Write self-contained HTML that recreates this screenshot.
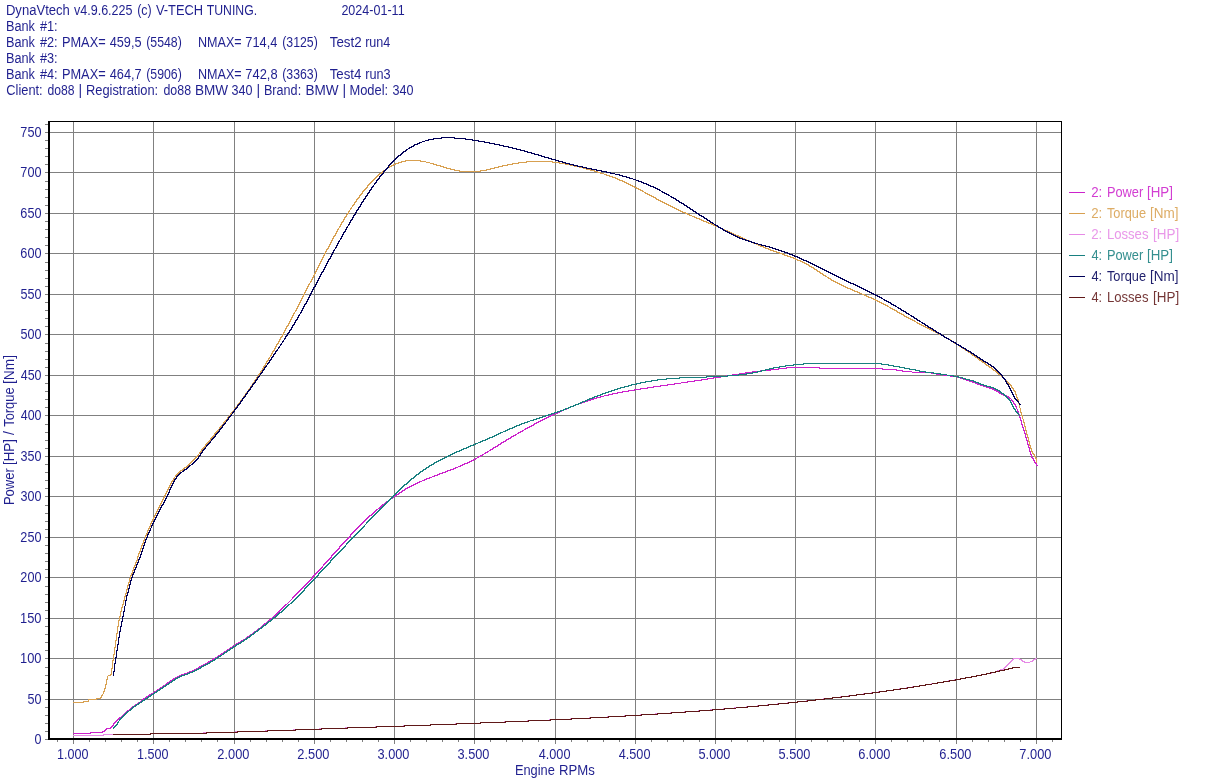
<!DOCTYPE html>
<html lang="en"><head><meta charset="utf-8"><title>DynaVtech</title>
<style>
html,body{margin:0;padding:0;background:#fff;}
body{width:1212px;height:779px;overflow:hidden;position:relative;font-family:"Liberation Sans",sans-serif;}
svg{position:absolute;left:0;top:0;display:block;}
text{font-family:"Liberation Sans",sans-serif;font-size:14px;fill:#000080;fill-opacity:.88;white-space:pre;}
.g{fill:#808080;}
</style></head><body>
<svg width="1212" height="779" viewBox="0 0 1212 779">
<rect x="0" y="0" width="1212" height="779" fill="#fff"/>
<g id="header">
<text y="15"><tspan x="5.93" textLength="63.92" lengthAdjust="spacingAndGlyphs">DynaVtech</tspan> <tspan x="73.96" textLength="58.57" lengthAdjust="spacingAndGlyphs">v4.9.6.225</tspan> <tspan x="137.23" textLength="14.55" lengthAdjust="spacingAndGlyphs">(c)</tspan> <tspan x="155.94" textLength="47.09" lengthAdjust="spacingAndGlyphs">V-TECH</tspan> <tspan x="206.72" textLength="50.39" lengthAdjust="spacingAndGlyphs">TUNING.</tspan> <tspan x="341.38" textLength="63.23" lengthAdjust="spacingAndGlyphs">2024-01-11</tspan></text>
<text y="31"><tspan x="5.96" textLength="29.03" lengthAdjust="spacingAndGlyphs">Bank</tspan> <tspan x="39.94" textLength="17.72" lengthAdjust="spacingAndGlyphs">#1:</tspan></text>
<text y="47"><tspan x="5.96" textLength="29.03" lengthAdjust="spacingAndGlyphs">Bank</tspan> <tspan x="39.94" textLength="17.72" lengthAdjust="spacingAndGlyphs">#2:</tspan> <tspan x="61.95" textLength="43.68" lengthAdjust="spacingAndGlyphs">PMAX=</tspan> <tspan x="109.71" textLength="31.83" lengthAdjust="spacingAndGlyphs">459,5</tspan> <tspan x="146.24" textLength="35.52" lengthAdjust="spacingAndGlyphs">(5548)</tspan> <tspan x="197.97" textLength="43.65" lengthAdjust="spacingAndGlyphs">NMAX=</tspan> <tspan x="245.34" textLength="32.03" lengthAdjust="spacingAndGlyphs">714,4</tspan> <tspan x="282.24" textLength="35.52" lengthAdjust="spacingAndGlyphs">(3125)</tspan> <tspan x="329.71" textLength="31.93" lengthAdjust="spacingAndGlyphs">Test2</tspan> <tspan x="365.16" textLength="25.21" lengthAdjust="spacingAndGlyphs">run4</tspan></text>
<text y="63"><tspan x="5.96" textLength="29.03" lengthAdjust="spacingAndGlyphs">Bank</tspan> <tspan x="39.94" textLength="17.72" lengthAdjust="spacingAndGlyphs">#3:</tspan></text>
<text y="79"><tspan x="5.96" textLength="29.03" lengthAdjust="spacingAndGlyphs">Bank</tspan> <tspan x="39.94" textLength="17.72" lengthAdjust="spacingAndGlyphs">#4:</tspan> <tspan x="61.95" textLength="43.68" lengthAdjust="spacingAndGlyphs">PMAX=</tspan> <tspan x="109.71" textLength="31.93" lengthAdjust="spacingAndGlyphs">464,7</tspan> <tspan x="146.24" textLength="35.52" lengthAdjust="spacingAndGlyphs">(5906)</tspan> <tspan x="197.97" textLength="43.65" lengthAdjust="spacingAndGlyphs">NMAX=</tspan> <tspan x="245.34" textLength="32.22" lengthAdjust="spacingAndGlyphs">742,8</tspan> <tspan x="282.24" textLength="35.52" lengthAdjust="spacingAndGlyphs">(3363)</tspan> <tspan x="329.72" textLength="31.66" lengthAdjust="spacingAndGlyphs">Test4</tspan> <tspan x="365.16" textLength="25.40" lengthAdjust="spacingAndGlyphs">run3</tspan></text>
<text y="95"><tspan x="6.35" textLength="36.32" lengthAdjust="spacingAndGlyphs">Client:</tspan> <tspan x="47.49" textLength="27.04" lengthAdjust="spacingAndGlyphs">do88</tspan> <tspan x="78.40">|</tspan> <tspan x="85.94" textLength="72.23" lengthAdjust="spacingAndGlyphs">Registration:</tspan> <tspan x="163.48" textLength="27.56" lengthAdjust="spacingAndGlyphs">do88</tspan> <tspan x="194.89" textLength="33.16" lengthAdjust="spacingAndGlyphs">BMW</tspan> <tspan x="231.52" textLength="20.97" lengthAdjust="spacingAndGlyphs">340</tspan> <tspan x="256.40">|</tspan> <tspan x="263.96" textLength="37.19" lengthAdjust="spacingAndGlyphs">Brand:</tspan> <tspan x="305.39" textLength="33.16" lengthAdjust="spacingAndGlyphs">BMW</tspan> <tspan x="342.40">|</tspan> <tspan x="349.44" textLength="38.74" lengthAdjust="spacingAndGlyphs">Model:</tspan> <tspan x="392.52" textLength="20.97" lengthAdjust="spacingAndGlyphs">340</tspan></text>
</g>
<g id="grid" shape-rendering="crispEdges">
<rect class="g" x="73" y="122" width="1" height="616"/>
<rect class="g" x="153" y="122" width="1" height="616"/>
<rect class="g" x="234" y="122" width="1" height="616"/>
<rect class="g" x="314" y="122" width="1" height="616"/>
<rect class="g" x="394" y="122" width="1" height="616"/>
<rect class="g" x="474" y="122" width="1" height="616"/>
<rect class="g" x="555" y="122" width="1" height="616"/>
<rect class="g" x="635" y="122" width="1" height="616"/>
<rect class="g" x="715" y="122" width="1" height="616"/>
<rect class="g" x="795" y="122" width="1" height="616"/>
<rect class="g" x="875" y="122" width="1" height="616"/>
<rect class="g" x="956" y="122" width="1" height="616"/>
<rect class="g" x="1036" y="122" width="1" height="616"/>
<rect class="g" x="50" y="132" width="1011" height="1"/>
<rect class="g" x="50" y="172" width="1011" height="1"/>
<rect class="g" x="50" y="213" width="1011" height="1"/>
<rect class="g" x="50" y="253" width="1011" height="1"/>
<rect class="g" x="50" y="294" width="1011" height="1"/>
<rect class="g" x="50" y="334" width="1011" height="1"/>
<rect class="g" x="50" y="375" width="1011" height="1"/>
<rect class="g" x="50" y="415" width="1011" height="1"/>
<rect class="g" x="50" y="456" width="1011" height="1"/>
<rect class="g" x="50" y="496" width="1011" height="1"/>
<rect class="g" x="50" y="537" width="1011" height="1"/>
<rect class="g" x="50" y="577" width="1011" height="1"/>
<rect class="g" x="50" y="618" width="1011" height="1"/>
<rect class="g" x="50" y="658" width="1011" height="1"/>
<rect class="g" x="50" y="699" width="1011" height="1"/>
</g>
<g id="curves" shape-rendering="crispEdges" fill="none" stroke-width="1">
<path stroke="#cc22cc" d="M786 367.5h34m-42 1h9m32 0h64m-113 1h9m103 0h15m-137 1h11m125 0h7m-151 1h9m141 0h10m-167 1h8m159 0h19m-192 1h7m185 0h6m-205 1h8m196 0h8m-218 1h7m210 0h8m-231 1h7m223 0h8m-245 1h8m236 0h4m-254 1h7m246 0h4m-263 1h7m255 0h4m-273 1h8m264 0h4m-283 1h8m274 0h4m-292 1h7m284 0h4m-302 1h7m294 0h3m-311 1h8m302 0h4m-321 1h8m312 0h4m-331 1h8m322 0h4m-340 1h7m332 0h4m-350 1h8m341 0h4m-359 1h7m351 0h3m-367 1h7m359 0h3m-375 1h7m367 0h3m-382 1h6m375 0h2m-388 1h6m381 0h3m-394 1h5m388 0h3m-400 1h5m394 0h4m-407 1h4m402 0h3m-413 1h5m407 0h2m-417 1h4m412 0h2m-421 1h4m-7 1h4m420 0h2m-429 1h4m424 0h2m-433 1h4m-7 1h4m431 0h2m-439 1h3m435 0h2m-443 1h3m-6 1h4m441 0h2m-449 1h3m-5 1h3m-6 1h4m-6 1h3m-5 1h3m455 0h2m-462 1h3m-6 1h4m-6 1h3m463 0h2m-470 1h3m-5 1h3m-5 1h3m470 0h2m-477 1h3m-5 1h3m-5 1h3m477 0h2m-484 1h3m-5 1h3m-5 1h3m-4 1h2m486 0h2m-492 1h3m-5 1h3m-5 1h3m492 0h2m-499 1h3m-4 1h2m-4 1h2m499 0h2m-505 1h3m-5 1h3m-4 1h2m505 0h2m-511 1h2m-4 1h3m-5 1h3m-4 1h2m513 0h2m-519 1h3m-5 1h3m-4 1h2m519 0h2m-525 1h3m-5 1h3m-4 1h2m-4 1h3m526 0h2m-532 1h2m-4 1h3m-5 1h3m532 0h2m-538 1h2m-4 1h3m-4 1h2m-4 1h2m540 0h2m-546 1h3m-4 1h2m-4 1h2m546 0h2m-552 1h3m-5 1h3m-4 1h2m552 0h2m-558 1h2m555 0h2m-561 1h3m-5 1h3m559 0h2m-566 1h3m-5 1h3m564 0h2m-572 1h4m567 0h2m-575 1h3m-5 1h3m573 0h2m-580 1h3m-6 1h3m-5 1h3m-6 1h4m-7 1h4m-6 1h3m-6 1h4m-7 1h4m-6 1h3m-6 1h4m-6 1h3m-6 1h3m-6 1h4m-6 1h3m-5 1h3m-6 1h3m-5 1h3m-5 1h3m-5 1h3m-5 1h3m-5 1h3m-5 1h3m-5 1h3m-4 1h2m-4 1h3m-4 1h2m-4 1h3m-4 1h2m-4 1h3m-4 1h2m-4 1h3m-4 1h2m-4 1h3m-4 1h2m-3 1h2m-4 1h3m-4 1h2m-3 1h2m-4 1h3m-4 1h2m-3 1h2m-3 1h2m-3 1h2m-4 1h2m-3 1h2m-3 1h2m-3 1h2m-3 1h2m-3 1h2m-4 1h3m-4 1h2m-3 1h2m-3 1h2m-3 1h2m-3 1h2m-3 1h2m-3 1h2m-3 1h2m-3 1h2m-3 1h2m-3 1h2m-3 1h2m-3 1h2m-3 1h2m-3 1h2m-3 1h2m-3 1h2m-3 1h2m-3 1h2m-3 2h2m-3 1h2m-3 1h2m-3 1h2m-3 1h2m-3 1h2m-3 1h2m-3 1h2m-3 1h2m-3 1h2m-3 1h2m-3 2h2m-3 1h2m-3 1h2m-3 1h2m-3 1h2m-3 1h2m-3 1h2m-3 1h2m-3 2h2m-3 1h2m-3 1h2m-3 1h2m-3 1h2m-3 1h2m-3 1h2m-3 1h2m-4 3h2m-3 1h2m-3 1h2m-3 1h2m-3 1h2m-3 1h2m-3 1h2m-3 1h2m-3 1h2m-3 1h2m-3 2h2m-3 1h2m-3 1h2m-3 1h2m-3 1h2m-3 1h2m-3 1h2m-3 1h2m-3 1h2m-3 1h2m-3 1h2m-3 1h2m-3 1h2m-3 1h2m-3 1h2m-3 1h2m-3 1h2m-3 1h2m-3 1h2m-3 1h2m-9 7h2m-3 1h2m-3 1h2m-3 1h2m-3 1h2m-3 1h2m-3 1h2m-3 1h2m-3 1h2m-3 1h2m-3 1h2m-3 1h2m-3 1h2m-3 1h2m-4 1h3m-4 1h2m-3 1h2m-3 1h2m-3 1h2m-4 1h3m-4 1h2m-3 1h2m-3 1h2m-3 1h2m-4 1h2m-3 1h2m-3 1h2m-4 1h3m-4 1h2m-3 1h2m-4 1h3m-4 1h2m-4 1h3m-4 1h2m-3 1h2m-4 1h2m-4 1h3m-4 1h2m-4 1h3m-5 1h3m-4 1h2m-4 1h3m-4 1h2m-4 1h3m-4 1h2m-4 1h3m-4 1h2m-4 1h3m-4 1h2m-4 1h3m-4 1h2m-4 1h3m-4 1h2m-4 1h3m-5 1h3m-4 1h2m-4 1h3m-5 1h3m-4 1h2m-4 1h3m-5 1h3m-5 1h3m-5 1h3m-4 1h2m-4 1h3m-5 1h3m-5 1h3m-6 1h4m-6 1h3m-6 1h4m-7 1h4m-6 1h3m-5 1h3m-5 1h3m-5 1h3m-4 1h2m-4 1h3m-4 1h2m-4 1h3m-4 1h2m-3 1h2m-4 1h3m-4 1h2m-4 1h3m-4 1h2m-4 1h3m-4 1h2m-4 1h3m-4 1h2m-4 1h2m-4 1h3m-4 1h2m-4 1h3m-4 1h2m-4 1h3m-4 1h2m-3 1h2m-3 1h2m-4 1h3m-4 1h2m-4 1h3m-4 1h2m-4 1h3m-4 1h2m-3 1h2m-3 1h2m-4 1h3m-4 1h2m-3 1h2m-3 1h2m-3 1h2m-3 1h2m-3 1h2m-4 1h3m-4 1h2m-3 1h2m-3 1h2m-3 1h2m-3 1h2m-3 1h2m-3 2h2m-3 1h2m-3 1h2m-6 1h5m-6 1h2m-3 1h2m-4 1h3m-15 1h13m-30 1h18M113.5 724v1m174 -122v1m1 -2v1m1 -2v1m1 -2v1m1 -2v1m1 -2v1m20 -22v1m10 -12v1m1 -2v1m8 -10v1m8 -10v1m11 -13v1m661 -137v1m2 2v1m2 2v1m1 1v2m1 0v2m1 1v2m1 1v2m1 1v2m1 1v3m1 1v2m1 1v2m1 1v2m1 1v3m1 1v2m1 1v3m1 1v2m1 1v3m1 1v2m1 1v2m2 2v1m1 1v1m2 2v1"/>
<path stroke="#d8a050" d="M405 160.5h16m-20 1h5m14 0h6m100 0h27m-155 1h4m24 0h4m88 0h9m25 0h8m-165 1h4m31 0h4m78 0h7m40 0h7m-173 1h3m37 0h4m70 0h6m52 0h6m-180 1h3m42 0h5m61 0h6m62 0h5m-186 1h3m48 0h4m54 0h5m71 0h6m-193 1h3m53 0h4m47 0h5m80 0h4m-197 1h2m58 0h5m39 0h5m88 0h4m-202 1h2m63 0h5m31 0h5m95 0h5m-208 1h2m69 0h6m20 0h7m103 0h5m-213 1h2m75 0h22m113 0h4m-217 1h2m214 0h4m-222 1h3m218 0h4m-226 1h2m224 0h3m-230 1h2m227 0h4m-234 1h2m231 0h4m-238 1h2m235 0h4m-242 1h2m239 0h3m-245 1h2m242 0h3m-248 1h2m245 0h4m-252 1h2m249 0h3m-255 1h2m252 0h3m-258 1h2m255 0h3m-261 1h2m258 0h3m-264 1h2m261 0h3m-1 1h3m-269 1h2m266 0h3m-272 1h2m269 0h3m-275 1h2m272 0h3m-278 1h2m275 0h3m-281 1h2m278 0h2m0 1h2m-285 1h2m282 0h3m-288 1h2m285 0h3m-291 1h2m288 0h3m-1 1h3m-296 1h2m293 0h3m-299 1h2m296 0h2m-301 1h2m298 0h3m-1 1h3m-306 1h2m303 0h3m-309 1h2m306 0h3m-1 1h3m-314 1h2m311 0h3m-317 1h2m314 0h3m-1 1h3m-1 1h3m-325 1h2m322 0h3m-1 1h3m-1 1h3m-333 1h2m330 0h3m-1 1h4m-339 1h2m336 0h3m-342 1h2m339 0h3m-1 1h3m-347 1h2m345 0h3m-351 1h2m348 0h3m-1 1h4m-357 1h2m354 0h3m-1 1h3m-362 1h2m359 0h4m-366 1h2m363 0h3m-1 1h4m-372 1h2m369 0h3m-1 1h3m-377 1h2m374 0h4m-1 1h3m-1 1h3m-386 1h2m383 0h3m-1 1h4m-392 1h2m389 0h3m-1 1h3m-397 1h2m394 0h3m-1 1h3m-402 1h2m399 0h4m-406 1h2m403 0h3m-1 1h3m-411 1h2m408 0h3m-1 1h3m-416 1h2m413 0h4m-1 1h3m-422 1h2m419 0h3m-1 1h4m-428 1h2m425 0h3m-1 1h3m-433 1h2m430 0h4m-1 1h3m-439 1h2m436 0h4m-443 1h2m440 0h3m-1 1h4m-449 1h2m446 0h4m-1 1h4m-456 1h2m453 0h4m-1 1h3m-462 1h2m459 0h4m-1 1h4m-469 1h2m466 0h4m-1 1h3m-475 1h2m472 0h3m-1 1h4m-481 1h2m478 0h3m-1 1h3m-486 1h2m483 0h3m-1 1h3m-491 1h2m488 0h2m-1 1h3m-495 1h2m492 0h3m-1 1h2m-499 1h2m496 0h3m-1 1h2m-503 1h2m500 0h3m-1 1h2m-507 1h2m504 0h3m-1 1h2m-511 1h2m508 0h3m-1 1h2m-515 1h2m513 0h2m-1 1h3m-520 1h2m517 0h2m-1 1h3m-524 1h2m521 0h3m-1 1h3m-1 1h3m-532 1h2m529 0h3m-1 1h3m-537 1h2m534 0h3m-1 1h3m-542 1h2m539 0h4m-1 1h3m-548 1h2m545 0h3m-1 1h4m-554 1h2m551 0h3m-1 1h3m-559 1h2m557 0h3m-1 1h3m-565 1h2m562 0h3m-1 1h4m-571 1h2m568 0h3m-1 1h3m-576 1h2m573 0h3m-1 1h3m-581 1h2m578 0h3m-1 1h3m-586 1h2m583 0h3m-1 1h3m-591 1h2m588 0h2m0 1h2m-595 1h2m592 0h3m-1 1h3m-600 1h2m597 0h3m-1 1h2m-1 1h3m-607 1h2m604 0h3m-1 1h3m-612 1h2m609 0h2m-1 1h3m-616 1h2m613 0h3m-1 1h3m-621 1h2m618 0h3m-1 1h3m-626 1h2m623 0h2m0 1h2m-630 1h2m627 0h3m-1 1h3m-635 1h2m632 0h3m-638 1h2m635 0h3m-1 1h3m-643 1h2m640 0h3m-1 1h3m-648 1h2m645 0h3m-1 1h3m-653 1h2m650 0h3m-1 1h3m-658 1h2m655 0h3m-1 1h3m-663 1h2m660 0h2m-665 1h2m663 0h2m-1 1h3m-670 1h2m667 0h3m-1 1h2m-674 1h2m671 0h3m-1 1h2m-678 1h2m675 0h3m-681 1h2m678 0h3m-1 1h2m-685 1h2m682 0h3m-1 1h2m-689 1h2m686 0h3m-1 1h2m-693 1h2m690 0h3m-696 1h2m693 0h2m-1 1h2m-699 1h2m697 0h2m-1 1h2m-703 1h2m700 0h3m-1 1h2m-1 1h3m-710 1h2m707 0h2m-1 1h2m-713 1h2m710 0h3m-716 1h2m713 0h2m-1 1h3m-720 1h2m717 0h2m-1 1h2m-723 1h2m720 0h3m-726 1h2m723 0h2m-1 1h3m-730 1h2m727 0h2m-1 1h2m-733 1h2m730 0h3m-736 1h2m733 0h2m-1 1h2m-739 1h2m736 0h2m-741 1h2m738 0h3m-1 1h2m-745 1h2m742 0h2m-747 1h2m744 0h2m-1 1h2m-750 1h2m747 0h2m-752 1h2m749 0h2m-1 1h2m-755 1h2m752 0h2m-757 1h2m754 0h2m-1 1h2m-760 1h2m757 0h2m-762 1h2m759 1h2m-764 1h2m761 0h2m-766 1h2m763 1h2m-768 1h2m765 0h2m-770 1h2m-3 1h2m768 1h2m-773 1h2m-3 1h2m771 1h2m-777 2h2m774 0h2m-779 1h2m-3 2h2m-3 1h2m778 0h2m-783 1h2m-3 2h2m-3 1h2m-3 1h2m-3 2h2m-3 1h2m-3 1h2m787 0h2m-792 1h2m-3 2h2m790 0h2m-795 1h2m-3 1h2m-3 2h2m-3 1h2m-3 1h2m-3 1h2m798 0h2m-803 2h2m-3 1h2m-3 1h2m802 0h2m-807 1h2m-4 3h2m806 0h2m-811 1h2m-3 1h2m-3 1h2m810 1h2m-815 1h2m-3 1h2m-3 1h2m814 0h2m-819 1h2m-3 2h2m-3 1h2m818 0h2m-823 1h2m-3 1h2m-3 1h2m822 1h2m-827 1h2m-3 1h2m-3 1h2m826 0h2m-831 1h2m-3 2h2m829 0h2m-834 1h2m831 1h2m-1 1h2m-838 1h2m-3 1h2m836 0h2m-841 1h2m-3 1h2m839 0h2m-844 1h2m-3 1h2m-3 1h2m-3 1h2m-3 1h2m-3 1h2m-3 1h2m-3 1h2m-4 1h3m-4 1h2m-3 1h2m-4 1h3m-4 1h2m-3 1h2m-3 1h2m-3 1h2m-3 1h2m-4 3h2m-3 2h2m-3 1h2m-3 2h2m-3 2h2m-3 2h2m-3 2h2m-3 2h2m-3 2h2m-3 2h2m-3 2h2m-3 2h2m-3 2h2m-3 2h2m-3 2h2m-3 2h2m-3 2h2m-3 2h2m-3 2h2m-3 2h2m-3 2h2m-3 2h2m-3 2h2m-3 2h2m-3 3h2m-3 2h2m-3 2h2m-3 3h2m-3 2h2m-4 5h2m-3 3h2m-3 2h2m-3 3h2m-3 3h2m-3 2h2m-3 3h2m-3 4h2m-3 2h2m-3 3h2m-3 2h2m-3 3h2m-3 3h2m-3 2h2m-3 3h2m-3 4h2m-3 3h2m-3 4h2m-3 4h2m-3 3h2m-3 4h2m-3 4h2m-3 3h2m-3 4h2m-3 5h2m-3 4h2m-3 6h2m-3 7h2m-3 7h2m-3 7h2m-3 7h2m-3 6h2m-3 8h2m-3 6h2m-4 1h3m-5 4h2m-3 5h2m-3 4h2m-3 3h2m-4 4h2m-3 2h2m-6 1h5m-13 1h9m-14 2h6m-16 1h11M88.5 700v1m13 -5v1m1 -3v1m1 -3v2m1 -5v2m1 -6v3m1 -8v4m1 -8v3m4 -10v5m1 -13v7m1 -13v5m1 -12v6m1 -13v6m1 -13v6m1 -13v6m1 -12v5m1 -9v3m1 -8v4m1 -8v3m1 -6v2m1 -6v3m1 -7v3m1 -6v2m1 -6v3m1 -7v3m1 -6v2m1 -6v3m1 -6v2m1 -4v1m1 -4v2m1 -5v2m1 -4v1m1 -4v2m1 -4v1m1 -5v3m1 -6v2m1 -4v1m1 -4v2m1 -5v2m1 -4v1m1 -4v2m1 -5v2m1 -4v2m1 -4v1m1 -4v2m1 -4v1m1 -3v1m1 -4v2m1 -4v1m1 -3v1m1 -3v1m1 -3v1m1 -3v1m1 -3v1m1 -3v1m1 -3v1m1 -3v1m1 -3v1m1 -3v1m1 -3v1m1 -3v1m1 -3v1m1 -3v1m1 -3v1m1 -3v1m1 -3v1m1 -3v1m1 -3v1m1 -3v1m2 -4v1m1 -3v1m1 -2v1m23 -23v1m1 -2v1m2 -4v1m4 -6v1m5 -7v1m4 -6v1m4 -6v1m1 -2v1m4 -6v1m4 -6v1m3 -5v1m4 -6v1m3 -5v1m3 -5v1m2 -4v1m1 -2v1m2 -4v1m3 -5v1m2 -4v1m2 -4v1m2 -4v1m2 -4v1m2 -4v1m2 -4v1m2 -4v1m1 -3v1m2 -4v1m1 -3v1m2 -4v1m1 -3v1m1 -2v1m1 -3v1m1 -3v1m2 -4v1m1 -3v1m1 -3v1m2 -4v1m1 -3v1m1 -3v1m2 -4v1m1 -3v1m1 -3v1m1 -3v1m1 -3v1m2 -4v1m1 -3v1m1 -3v1m1 -3v1m1 -3v1m1 -3v1m1 -3v1m1 -2v1m1 -3v1m1 -3v1m1 -3v1m1 -3v1m1 -3v1m1 -3v1m1 -3v1m1 -3v1m1 -3v1m1 -3v1m1 -3v1m1 -3v1m1 -3v1m1 -3v1m1 -2v1m1 -3v1m1 -3v1m1 -3v1m1 -3v1m1 -3v1m1 -3v1m1 -3v1m1 -3v1m1 -3v1m1 -3v1m1 -3v1m1 -3v1m1 -3v1m1 -3v1m1 -3v1m1 -3v1m2 -4v1m1 -3v1m1 -3v1m1 -3v1m1 -3v1m1 -3v1m2 -4v1m1 -3v1m1 -3v1m1 -3v1m1 -2v1m1 -3v1m1 -3v1m2 -4v1m1 -3v1m2 -4v1m2 -4v1m1 -3v1m1 -2v1m1 -3v1m1 -2v1m2 -4v1m2 -4v1m3 -5v1m3 -5v1m5 -7v1m644 199v1m2 2v1m2 2v2m1 1v2m1 1v1m1 1v3m1 1v4m1 0v4m1 1v2m1 1v3m1 0v3m1 1v3m1 1v3m1 1v3m1 1v2m1 1v3m1 1v3m1 1v2m1 1v2m1 1v1m2 2v1m1 1v1m1 1v4"/>
<path stroke="#e68ae6" d="M1013 658.5h7m15 0h2m-25 1h2m5 0h3m11 0h3m-25 1h2m8 0h2m9 0h2m-24 1h2m10 0h3m5 0h3m-24 1h2m13 0h6m-22 1h2m-3 1h2m-3 1h2m-3 1h2m-3 1h2m-3 1h2m-5 1h4m-7 1h4m-6 1h3m-7 1h5m-10 1h6m-11 1h6m-11 1h6m-11 1h6m-12 1h7m-12 1h6m-12 1h7m-13 1h7m-12 1h6m-12 1h7m-13 1h7m-13 1h7m-13 1h7m-14 1h8m-14 1h7m-14 1h8m-14 1h7m-14 1h8m-16 1h9m-16 1h8m-16 1h9m-16 1h8m-16 1h9m-17 1h9m-17 1h9m-18 1h10m-18 1h9m-18 1h10m-19 1h10m-20 1h11m-21 1h11m-21 1h11m-21 1h11m-22 1h11m-23 1h13m-24 1h12m-25 1h14m-26 1h13m-27 1h14m-28 1h15m-30 1h16m-31 1h16m-32 1h17m-34 1h18m-36 1h19m-38 1h20m-41 1h21m-43 1h23m-46 1h24m-48 1h25m-50 1h26m-51 1h26m-53 1h28m-56 1h29m-59 1h31m-57 1h27m-53 1h27m-55 1h29m-59 1h31m-63 1h33m-86 1h54m-101 1h48m-78 1h31"/>
<path stroke="#188080" d="M803 363.5h79m-89 1h11m77 0h8m-104 1h9m94 0h6m-115 1h7m107 0h7m-127 1h7m119 0h6m-136 1h5m130 0h6m-145 1h5m139 0h7m-155 1h5m149 0h5m-163 1h5m157 0h7m-174 1h6m167 0h9m-188 1h7m180 0h8m-203 1h9m193 0h7m-220 1h12m208 0h7m-248 1h22m225 0h6m-280 1h28m251 0h5m-297 1h14m282 0h4m-309 1h10m298 0h5m-319 1h7m311 0h5m-329 1h7m321 0h3m-336 1h6m329 0h4m-343 1h5m337 0h3m-350 1h6m343 0h4m-356 1h4m351 0h4m-363 1h5m357 0h5m-371 1h5m365 0h4m-377 1h4m372 0h3m-382 1h4m377 0h3m-387 1h4m382 0h3m-392 1h4m387 0h2m-396 1h4m391 0h2m-400 1h4m395 0h3m-404 1h3m400 0h2m-408 1h4m403 0h2m-412 1h4m407 0h2m-415 1h3m411 0h2m-419 1h4m414 0h2m-422 1h3m418 0h2m-425 1h3m421 0h2m-429 1h4m-6 1h3m427 0h2m-434 1h3m-6 1h4m432 0h2m-440 1h3m-6 1h4m438 0h2m-446 1h3m-6 1h4m444 0h2m-452 1h3m448 0h2m-456 1h4m-7 1h4m454 0h2m-463 1h4m458 0h2m-467 1h4m462 0h2m-471 1h4m-7 1h4m-7 1h4m-7 1h4m-7 1h4m-7 1h4m-7 1h4m-7 1h3m-6 1h4m-7 1h4m-6 1h3m-6 1h4m-6 1h3m-5 1h3m-6 1h4m-6 1h3m-5 1h3m-5 1h3m-6 1h3m-5 1h3m-5 1h3m-5 1h3m-5 1h3m-6 1h4m-6 1h3m-5 1h3m-6 1h4m-6 1h3m-5 1h3m-6 1h3m-5 1h3m-6 1h4m-6 1h3m-5 1h3m-6 1h4m-6 1h3m-5 1h3m-6 1h4m-6 1h3m-5 1h3m-5 1h3m-5 1h3m-5 1h3m-5 1h3m-5 1h3m-5 1h3m-5 1h3m-5 1h3m-5 1h3m-4 1h2m-4 1h3m-5 1h3m-4 1h2m-4 1h3m-4 1h2m-4 1h3m-4 1h2m-4 1h3m-4 1h2m-3 1h2m-4 1h3m-4 1h2m-3 1h2m-3 1h2m-4 1h3m-4 1h2m-3 1h2m-3 1h2m-3 1h2m-3 1h2m-4 1h3m-4 1h2m-3 1h2m-3 1h2m-3 1h2m-3 1h2m-3 1h2m-3 1h2m-3 1h2m-3 1h2m-3 1h2m-3 1h2m-3 1h2m-3 1h2m-3 1h2m-3 1h2m-3 1h2m-3 1h2m-3 1h2m-3 1h2m-3 1h2m-3 1h2m-3 1h2m-3 1h2m-3 1h2m-3 1h2m-3 1h2m-3 1h2m-3 1h2m-3 1h2m-3 1h2m-3 1h2m-3 1h2m-3 1h2m-3 1h2m-3 1h2m-3 1h2m-3 1h2m-3 1h2m-5 4h2m-3 1h2m-3 1h2m-3 1h2m-3 1h2m-3 1h2m-3 1h2m-3 1h2m-3 1h2m-3 1h2m-3 1h2m-3 1h2m-3 1h2m-3 1h2m-3 1h2m-3 1h2m-3 1h2m-3 1h2m-4 3h2m-3 1h2m-3 1h2m-3 1h2m-3 1h2m-3 1h2m-3 1h2m-3 1h2m-3 1h2m-3 1h2m-3 1h2m-3 1h2m-3 1h2m-3 1h2m-3 1h2m-3 2h2m-3 1h2m-3 1h2m-3 1h2m-3 1h2m-3 1h2m-3 1h2m-3 1h2m-3 1h2m-3 1h2m-3 1h2m-3 1h2m-3 2h2m-3 1h2m-3 1h2m-3 1h2m-3 1h2m-3 1h2m-3 1h2m-3 1h2m-3 1h2m-3 1h2m-3 1h2m-3 1h2m-3 1h2m-3 1h2m-3 2h2m-3 1h2m-3 1h2m-3 1h2m-3 1h2m-3 1h2m-3 1h2m-3 1h2m-3 1h2m-3 1h2m-3 1h2m-3 1h2m-3 1h2m-3 1h2m-4 1h2m-3 1h2m-3 1h2m-3 1h2m-3 1h2m-3 1h2m-3 1h2m-3 1h2m-4 1h3m-4 1h2m-3 1h2m-3 1h2m-3 1h2m-4 1h3m-4 1h2m-3 1h2m-3 1h2m-4 1h3m-4 1h2m-3 1h2m-3 1h2m-4 1h3m-4 1h2m-3 1h2m-4 1h3m-4 1h2m-3 1h2m-4 1h3m-4 1h2m-3 1h2m-4 1h3m-4 1h2m-3 1h2m-4 1h3m-4 1h2m-4 1h3m-4 1h2m-4 1h3m-4 1h2m-4 1h3m-5 1h3m-4 1h2m-4 1h3m-4 1h2m-4 1h3m-4 1h2m-4 1h3m-4 1h2m-4 1h3m-4 1h2m-3 1h2m-4 1h2m-4 1h3m-4 1h2m-4 1h3m-4 1h2m-4 1h3m-5 1h3m-4 1h2m-4 1h3m-5 1h3m-5 1h3m-5 1h3m-4 1h2m-4 1h3m-5 1h3m-5 1h3m-5 1h3m-6 1h4m-6 1h3m-6 1h4m-7 1h4m-6 1h3m-5 1h3m-5 1h3m-4 1h2m-4 1h3m-4 1h2m-4 1h3m-4 1h2m-4 1h3m-4 1h2m-4 1h3m-4 1h2m-4 1h3m-4 1h2m-4 1h3m-4 1h2m-4 1h3m-4 1h2m-4 1h3m-4 1h2m-4 1h3m-4 1h2m-4 1h3m-4 1h2m-4 1h3m-4 1h2m-4 1h3m-4 1h2m-4 1h3m-4 1h2m-4 1h3m-4 1h2m-3 1h2m-3 1h2m-3 1h2m-4 1h2m-3 1h2m-3 1h2m-3 1h2m-3 1h2m-3 1h2m-3 1h2m-3 1h2m-3 1h2m-4 3h2m-3 2h2m-3 1h2m-3 1h2m-3 1h2M113.5 728v1m4 -6v1m1 -3v1m1 -2v1m185 -132v1m14 -16v1m12 -14v1m15 -17v1m1 -2v1m18 -20v1m1 -2v1m1 -2v1m644 -123v1m1 1v1m1 1v1m1 1v1m2 2v1m3 3v1m1 0v1"/>
<path stroke="#000058" d="M441 137.5h14m-22 1h9m12 0h12m-38 1h6m31 0h8m-48 1h4m43 0h7m-57 1h3m53 0h7m-66 1h3m62 0h6m-73 1h3m69 0h6m-81 1h4m76 0h6m-87 1h2m84 0h5m-93 1h3m89 0h6m-100 1h3m96 0h5m-105 1h2m102 0h5m-111 1h2m108 0h5m-116 1h2m113 0h5m-122 1h3m118 0h4m-126 1h2m123 0h5m-131 1h2m128 0h4m-135 1h2m132 0h5m-141 1h3m137 0h4m-145 1h2m142 0h4m-149 1h2m146 0h5m-154 1h2m151 0h4m-158 1h2m155 0h5m-163 1h2m160 0h4m-167 1h2m164 0h5m-172 1h2m169 0h4m-176 1h2m173 0h5m-181 1h2m178 0h5m-186 1h2m183 0h5m-1 1h6m-196 1h2m193 0h5m-201 1h2m198 0h6m-207 1h2m204 0h6m-213 1h2m210 0h6m-219 1h2m216 0h6m-1 1h5m-229 1h2m226 0h5m-234 1h2m232 0h5m-240 1h2m237 0h4m-244 1h2m241 0h5m-1 1h4m-252 1h2m249 0h4m-256 1h2m254 0h3m-260 1h2m258 0h3m-1 1h4m-267 1h2m264 0h3m-270 1h2m267 0h4m-1 1h3m-1 1h3m-279 1h2m276 0h4m-283 1h2m280 0h3m-1 1h3m-288 1h2m285 0h3m-291 1h2m288 0h2m0 1h2m-295 1h2m292 0h3m-298 1h2m295 0h3m-1 1h3m-303 1h2m300 0h2m-305 1h2m303 0h2m-1 1h3m-310 1h2m307 0h3m-313 1h2m310 0h2m-1 1h3m-317 1h2m314 0h2m-319 1h2m316 0h3m-1 1h3m-324 1h2m321 0h2m-1 1h3m-328 1h2m325 0h2m-330 1h2m327 0h3m-1 1h2m-334 1h2m331 0h3m-337 1h2m334 0h2m-1 1h3m-341 1h2m338 0h2m-1 1h3m-345 1h2m342 0h2m-347 1h2m344 0h3m-1 1h3m-352 1h2m349 0h2m-1 1h3m-356 1h2m353 0h2m-358 1h2m355 0h3m-1 1h2m-362 1h2m359 0h3m-1 1h2m-366 1h2m364 0h2m-1 1h3m-1 1h2m-373 1h2m370 0h3m-1 1h3m-378 1h2m375 0h2m-1 1h3m-382 1h2m379 0h3m-385 1h2m382 0h3m-1 1h3m-390 1h2m387 0h3m-1 1h3m-395 1h2m392 0h3m-1 1h3m-400 1h2m397 0h4m-1 1h4m-1 1h4m-411 1h2m408 0h4m-1 1h4m-418 1h2m415 0h4m0 1h4m-426 1h2m423 0h5m-1 1h5m-435 1h2m432 0h4m-1 1h4m-1 1h4m-446 1h2m443 0h4m-1 1h4m-453 1h2m450 0h4m-1 1h3m-459 1h2m456 0h4m-1 1h3m-465 1h2m462 0h4m-1 1h3m-471 1h2m468 0h3m-474 1h2m471 0h3m-1 1h4m-480 1h2m477 0h3m-1 1h3m-485 1h2m482 0h3m-1 1h3m-490 1h2m487 0h3m-1 1h3m-495 1h2m492 0h3m-1 1h3m-500 1h2m497 0h3m-1 1h3m-505 1h2m502 0h3m-508 1h2m505 0h3m-1 1h3m-513 1h2m510 0h3m-1 1h3m-518 1h2m515 0h3m-1 1h3m-523 1h2m520 0h3m-1 1h3m-528 1h2m525 0h3m-1 1h3m-533 1h2m530 0h3m-1 1h4m-539 1h2m536 0h3m-1 1h3m-544 1h2m541 0h3m-547 1h2m544 0h3m-1 1h3m-552 1h2m549 0h3m-1 1h3m-557 1h2m554 0h3m-1 1h3m-562 1h2m559 0h3m-1 1h3m-567 1h2m564 0h3m-1 1h3m-572 1h2m569 0h3m-1 1h2m-576 1h2m574 0h2m-1 1h3m-581 1h2m578 0h3m-1 1h3m-586 1h2m583 0h2m-588 1h2m585 0h3m-1 1h3m-593 1h2m590 0h2m0 1h2m-597 1h2m594 0h3m-1 1h2m-601 1h2m598 0h3m-1 1h3m-606 1h2m603 0h2m-1 1h3m-1 1h2m-612 1h2m610 0h2m-1 1h3m-617 1h2m614 0h2m-1 1h3m-621 1h2m618 0h2m-623 1h2m620 0h3m-1 1h2m-627 1h2m625 0h2m-1 1h3m-632 1h2m629 0h2m-634 1h2m631 0h3m-1 1h2m-638 1h2m635 0h3m-1 1h3m-643 1h2m640 0h2m-645 1h2m642 0h3m-1 1h2m-649 1h2m646 0h3m-652 1h2m649 0h3m-1 1h2m-656 1h2m653 0h3m-659 1h2m656 0h2m-1 1h3m-663 1h2m660 0h3m-1 1h2m0 1h2m-670 1h2m667 0h3m-1 1h3m-1 1h2m-677 1h2m674 0h3m-1 1h3m-1 1h2m-684 1h2m681 0h3m-1 1h3m-1 1h2m-691 1h2m688 0h3m-694 1h2m691 0h3m-1 1h2m-698 1h2m695 0h3m-701 1h2m698 0h2m-1 1h3m-705 1h2m702 0h2m-707 1h2m704 0h3m-1 1h2m-711 1h2m708 0h3m-714 1h2m711 0h2m-1 1h3m-718 1h2m715 0h3m-721 1h2m718 0h2m-1 1h3m-1 1h2m-727 1h2m724 0h3m-730 1h2m727 0h2m-1 1h2m-733 1h2m730 0h2m-735 1h2m732 0h2m-1 1h2m-738 1h2m735 0h2m-740 1h2m737 0h2m-1 1h2m-1 1h2m-745 1h2m-3 1h2m743 0h2m-1 1h2m-749 1h2m746 0h2m-751 1h2m748 1h2m-753 1h2m-3 1h2m751 0h2m-756 1h2m753 0h2m-758 2h2m755 0h2m-760 1h2m757 1h2m-762 1h2m-3 1h2m760 0h2m-765 1h2m762 1h2m-767 1h2m-3 1h2m765 0h2m-770 2h2m767 0h2m-772 1h2m-3 1h2m770 0h2m-1 1h2m-776 1h2m773 0h2m-778 1h2m775 0h2m-780 2h2m-3 1h2m779 0h2m-784 1h2m-3 2h2m-3 1h2m-3 1h2m-3 2h2m-3 1h2m-4 3h2m-3 1h2m-3 1h2m-3 2h2m-3 1h2m-4 3h2m-3 1h2m-3 1h2m-3 2h2m-3 1h2m-3 1h2m-3 2h2m-3 1h2m-3 1h2m-3 1h2m-3 2h2m-3 1h2m-3 1h2m-3 1h2m-4 3h2m-3 1h2m-3 1h2m-3 1h2m-4 3h2m-3 1h2m-3 1h2m-3 2h2m-3 1h2m-3 2h2m-3 1h2m-3 2h2m-3 1h2m-3 1h2m-3 1h2m-3 1h2m-3 1h2m-3 1h2m-4 1h2m-3 1h2m-3 1h2m-3 1h2m-4 1h3m-4 1h2m-3 1h2m-4 1h2m-3 1h2m-3 1h2m-3 1h2m-3 1h2m-3 2h2m-3 1h2m-3 2h2m-3 2h2m-3 2h2m-3 2h2m-3 2h2m-3 3h2m-3 2h2m-3 2h2m-3 2h2m-3 2h2m-3 2h2m-3 2h2m-3 1h2m-3 2h2m-3 2h2m-3 2h2m-3 2h2m-3 2h2m-3 2h2m-3 2h2m-3 2h2m-3 2h2m-3 2h2m-4 5h2m-3 2h2m-3 2h2m-3 3h2m-3 2h2m-3 3h2m-3 3h2m-3 3h2m-3 3h2m-3 3h2m-3 3h2m-3 2h2m-3 3h2m-3 2h2m-3 3h2m-3 2h2m-3 3h2m-3 2h2m-3 3h2m-3 3h2m-3 4h2m-3 4h2m-3 4h2m-3 3h2m-3 5h2m-4 11h2m-3 5h2m-3 5h2m-3 5h2m-3 5h2m-3 6h2m-3 7h2m-3 6h2m-3 7h2m-3 6h2m-3 8h2M113.5 672v4m1 -12v7m1 -13v5m1 -12v6m1 -12v5m1 -12v6m1 -12v5m1 -10v4m1 -9v4m1 -9v4m1 -9v4m1 -10v5m1 -10v5m1 -10v4m1 -7v2m1 -6v3m1 -7v3m1 -7v3m1 -6v2m1 -5v2m1 -4v1m1 -4v2m1 -4v1m1 -4v2m1 -4v1m1 -4v2m1 -4v1m1 -4v2m1 -5v2m1 -5v2m1 -5v2m1 -5v2m1 -5v2m1 -4v1m1 -4v2m1 -4v1m1 -3v1m1 -4v2m1 -4v2m1 -4v1m1 -3v1m1 -3v1m1 -3v1m1 -3v1m1 -3v1m1 -3v1m1 -3v1m1 -3v1m1 -3v1m2 -4v1m1 -3v1m1 -3v1m1 -3v1m1 -3v1m1 -3v1m1 -4v2m1 -4v1m1 -3v1m1 -3v1m1 -3v1m1 -3v1m2 -4v1m22 -21v1m2 -4v1m2 -4v1m3 -5v1m1 -2v1m4 -6v1m1 -2v1m4 -6v1m4 -6v1m3 -5v1m3 -5v1m1 -2v1m2 -4v1m3 -5v1m1 -2v1m2 -4v1m3 -5v1m3 -5v1m2 -4v1m3 -5v1m2 -4v1m3 -5v1m2 -4v1m3 -5v1m2 -4v1m2 -4v1m1 -2v1m2 -4v1m2 -4v1m2 -4v1m1 -2v1m2 -4v1m2 -4v1m2 -4v1m2 -4v1m2 -4v1m1 -2v1m1 -3v1m1 -2v1m1 -3v1m1 -2v1m1 -3v1m1 -2v1m1 -3v1m2 -4v1m2 -4v1m2 -4v1m1 -3v1m2 -4v1m1 -3v1m2 -4v1m1 -3v1m1 -3v1m1 -2v1m1 -3v1m1 -3v1m1 -3v1m1 -3v1m2 -4v1m1 -3v1m1 -3v1m1 -3v1m1 -3v1m1 -3v1m1 -3v1m1 -3v1m2 -4v1m1 -3v1m1 -3v1m1 -3v1m1 -3v1m1 -3v1m1 -3v1m2 -4v1m1 -3v1m1 -3v1m1 -3v1m1 -3v1m1 -3v1m2 -4v1m1 -3v1m1 -3v1m1 -3v1m1 -3v1m1 -2v1m1 -3v1m1 -3v1m1 -3v1m1 -3v1m1 -2v1m1 -3v1m1 -3v1m1 -3v1m2 -4v1m1 -3v1m1 -3v1m1 -2v1m1 -3v1m1 -3v1m2 -4v1m1 -3v1m2 -4v1m1 -3v1m2 -4v1m2 -4v1m1 -3v1m2 -4v1m2 -4v1m2 -4v1m2 -4v1m2 -4v1m2 -4v1m1 -2v1m2 -4v1m3 -5v1m4 -6v1m5 -7v1m614 209v1m3 3v1m1 1v1m2 2v1m1 1v1m1 1v1m1 1v1m1 1v1m1 1v1m1 1v1m4 4v1m1 0v1"/>
<path stroke="#601818" d="M1012 667.5h8m-12 1h5m-9 1h5m-10 1h6m-10 1h5m-10 1h6m-10 1h5m-10 1h6m-11 1h6m-11 1h6m-12 1h7m-12 1h6m-11 1h6m-12 1h7m-13 1h7m-13 1h7m-12 1h6m-13 1h7m-13 1h7m-13 1h7m-13 1h7m-14 1h8m-15 1h8m-15 1h8m-15 1h8m-15 1h8m-16 1h9m-17 1h9m-16 1h8m-16 1h9m-18 1h10m-18 1h9m-18 1h10m-18 1h9m-19 1h11m-20 1h10m-20 1h11m-21 1h11m-21 1h11m-22 1h12m-23 1h12m-24 1h12m-24 1h13m-26 1h14m-28 1h15m-29 1h15m-29 1h15m-31 1h17m-33 1h17m-34 1h18m-36 1h19m-38 1h20m-41 1h22m-44 1h23m-46 1h24m-49 1h26m-50 1h25m-51 1h27m-53 1h27m-55 1h29m-58 1h30m-56 1h27m-53 1h27m-55 1h29m-59 1h31m-62 1h32m-88 1h57m-94 1h38"/>
</g>
<g id="ticks" shape-rendering="crispEdges" fill="#808080">
<rect x="45" y="739" width="3" height="1"/>
<rect x="45" y="731" width="3" height="1"/>
<rect x="45" y="723" width="3" height="1"/>
<rect x="45" y="715" width="3" height="1"/>
<rect x="45" y="707" width="3" height="1"/>
<rect x="45" y="699" width="3" height="1"/>
<rect x="45" y="691" width="3" height="1"/>
<rect x="45" y="683" width="3" height="1"/>
<rect x="45" y="675" width="3" height="1"/>
<rect x="45" y="667" width="3" height="1"/>
<rect x="45" y="658" width="3" height="1"/>
<rect x="45" y="650" width="3" height="1"/>
<rect x="45" y="642" width="3" height="1"/>
<rect x="45" y="634" width="3" height="1"/>
<rect x="45" y="626" width="3" height="1"/>
<rect x="45" y="618" width="3" height="1"/>
<rect x="45" y="610" width="3" height="1"/>
<rect x="45" y="602" width="3" height="1"/>
<rect x="45" y="594" width="3" height="1"/>
<rect x="45" y="586" width="3" height="1"/>
<rect x="45" y="577" width="3" height="1"/>
<rect x="45" y="569" width="3" height="1"/>
<rect x="45" y="561" width="3" height="1"/>
<rect x="45" y="553" width="3" height="1"/>
<rect x="45" y="545" width="3" height="1"/>
<rect x="45" y="537" width="3" height="1"/>
<rect x="45" y="529" width="3" height="1"/>
<rect x="45" y="521" width="3" height="1"/>
<rect x="45" y="513" width="3" height="1"/>
<rect x="45" y="505" width="3" height="1"/>
<rect x="45" y="496" width="3" height="1"/>
<rect x="45" y="488" width="3" height="1"/>
<rect x="45" y="480" width="3" height="1"/>
<rect x="45" y="472" width="3" height="1"/>
<rect x="45" y="464" width="3" height="1"/>
<rect x="45" y="456" width="3" height="1"/>
<rect x="45" y="448" width="3" height="1"/>
<rect x="45" y="440" width="3" height="1"/>
<rect x="45" y="432" width="3" height="1"/>
<rect x="45" y="424" width="3" height="1"/>
<rect x="45" y="415" width="3" height="1"/>
<rect x="45" y="407" width="3" height="1"/>
<rect x="45" y="399" width="3" height="1"/>
<rect x="45" y="391" width="3" height="1"/>
<rect x="45" y="383" width="3" height="1"/>
<rect x="45" y="375" width="3" height="1"/>
<rect x="45" y="367" width="3" height="1"/>
<rect x="45" y="359" width="3" height="1"/>
<rect x="45" y="351" width="3" height="1"/>
<rect x="45" y="343" width="3" height="1"/>
<rect x="45" y="334" width="3" height="1"/>
<rect x="45" y="326" width="3" height="1"/>
<rect x="45" y="318" width="3" height="1"/>
<rect x="45" y="310" width="3" height="1"/>
<rect x="45" y="302" width="3" height="1"/>
<rect x="45" y="294" width="3" height="1"/>
<rect x="45" y="286" width="3" height="1"/>
<rect x="45" y="278" width="3" height="1"/>
<rect x="45" y="270" width="3" height="1"/>
<rect x="45" y="262" width="3" height="1"/>
<rect x="45" y="253" width="3" height="1"/>
<rect x="45" y="245" width="3" height="1"/>
<rect x="45" y="237" width="3" height="1"/>
<rect x="45" y="229" width="3" height="1"/>
<rect x="45" y="221" width="3" height="1"/>
<rect x="45" y="213" width="3" height="1"/>
<rect x="45" y="205" width="3" height="1"/>
<rect x="45" y="197" width="3" height="1"/>
<rect x="45" y="189" width="3" height="1"/>
<rect x="45" y="181" width="3" height="1"/>
<rect x="45" y="172" width="3" height="1"/>
<rect x="45" y="164" width="3" height="1"/>
<rect x="45" y="156" width="3" height="1"/>
<rect x="45" y="148" width="3" height="1"/>
<rect x="45" y="140" width="3" height="1"/>
<rect x="45" y="132" width="3" height="1"/>
<rect x="45" y="124" width="3" height="1"/>
<rect x="57" y="740" width="1" height="2"/>
<rect x="73" y="740" width="1" height="4"/>
<rect x="89" y="740" width="1" height="2"/>
<rect x="105" y="740" width="1" height="2"/>
<rect x="121" y="740" width="1" height="2"/>
<rect x="137" y="740" width="1" height="2"/>
<rect x="153" y="740" width="1" height="4"/>
<rect x="169" y="740" width="1" height="2"/>
<rect x="185" y="740" width="1" height="2"/>
<rect x="201" y="740" width="1" height="2"/>
<rect x="217" y="740" width="1" height="2"/>
<rect x="234" y="740" width="1" height="4"/>
<rect x="250" y="740" width="1" height="2"/>
<rect x="266" y="740" width="1" height="2"/>
<rect x="282" y="740" width="1" height="2"/>
<rect x="298" y="740" width="1" height="2"/>
<rect x="314" y="740" width="1" height="4"/>
<rect x="330" y="740" width="1" height="2"/>
<rect x="346" y="740" width="1" height="2"/>
<rect x="362" y="740" width="1" height="2"/>
<rect x="378" y="740" width="1" height="2"/>
<rect x="394" y="740" width="1" height="4"/>
<rect x="410" y="740" width="1" height="2"/>
<rect x="426" y="740" width="1" height="2"/>
<rect x="442" y="740" width="1" height="2"/>
<rect x="458" y="740" width="1" height="2"/>
<rect x="474" y="740" width="1" height="4"/>
<rect x="490" y="740" width="1" height="2"/>
<rect x="506" y="740" width="1" height="2"/>
<rect x="522" y="740" width="1" height="2"/>
<rect x="538" y="740" width="1" height="2"/>
<rect x="555" y="740" width="1" height="4"/>
<rect x="571" y="740" width="1" height="2"/>
<rect x="587" y="740" width="1" height="2"/>
<rect x="603" y="740" width="1" height="2"/>
<rect x="619" y="740" width="1" height="2"/>
<rect x="635" y="740" width="1" height="4"/>
<rect x="651" y="740" width="1" height="2"/>
<rect x="667" y="740" width="1" height="2"/>
<rect x="683" y="740" width="1" height="2"/>
<rect x="699" y="740" width="1" height="2"/>
<rect x="715" y="740" width="1" height="4"/>
<rect x="731" y="740" width="1" height="2"/>
<rect x="747" y="740" width="1" height="2"/>
<rect x="763" y="740" width="1" height="2"/>
<rect x="779" y="740" width="1" height="2"/>
<rect x="795" y="740" width="1" height="4"/>
<rect x="811" y="740" width="1" height="2"/>
<rect x="827" y="740" width="1" height="2"/>
<rect x="843" y="740" width="1" height="2"/>
<rect x="859" y="740" width="1" height="2"/>
<rect x="875" y="740" width="1" height="4"/>
<rect x="891" y="740" width="1" height="2"/>
<rect x="907" y="740" width="1" height="2"/>
<rect x="923" y="740" width="1" height="2"/>
<rect x="939" y="740" width="1" height="2"/>
<rect x="956" y="740" width="1" height="4"/>
<rect x="972" y="740" width="1" height="2"/>
<rect x="988" y="740" width="1" height="2"/>
<rect x="1004" y="740" width="1" height="2"/>
<rect x="1020" y="740" width="1" height="2"/>
<rect x="1036" y="740" width="1" height="4"/>
<rect x="1052" y="740" width="1" height="2"/>
</g>
<g id="frame" shape-rendering="crispEdges" fill="#000">
<rect x="48" y="121" width="1014" height="1"/>
<rect x="1061" y="121" width="1" height="619"/>
<rect x="48" y="121" width="2" height="619"/>
<rect x="48" y="738" width="1014" height="2"/>
</g>
<g id="ylabels">
<text x="20.35" y="137" textLength="21.14" lengthAdjust="spacingAndGlyphs">750</text>
<text x="20.35" y="177" textLength="21.14" lengthAdjust="spacingAndGlyphs">700</text>
<text x="20.36" y="218" textLength="21.14" lengthAdjust="spacingAndGlyphs">650</text>
<text x="20.36" y="258" textLength="21.14" lengthAdjust="spacingAndGlyphs">600</text>
<text x="20.50" y="299" textLength="21.00" lengthAdjust="spacingAndGlyphs">550</text>
<text x="20.50" y="339" textLength="21.00" lengthAdjust="spacingAndGlyphs">500</text>
<text x="20.71" y="380" textLength="20.77" lengthAdjust="spacingAndGlyphs">450</text>
<text x="20.71" y="420" textLength="20.77" lengthAdjust="spacingAndGlyphs">400</text>
<text x="20.52" y="461" textLength="20.97" lengthAdjust="spacingAndGlyphs">350</text>
<text x="20.52" y="501" textLength="20.97" lengthAdjust="spacingAndGlyphs">300</text>
<text x="20.36" y="542" textLength="21.13" lengthAdjust="spacingAndGlyphs">250</text>
<text x="20.36" y="582" textLength="21.13" lengthAdjust="spacingAndGlyphs">200</text>
<text x="20.02" y="623" textLength="21.48" lengthAdjust="spacingAndGlyphs">150</text>
<text x="20.02" y="663" textLength="21.48" lengthAdjust="spacingAndGlyphs">100</text>
<text x="27.50" y="704" textLength="14.00" lengthAdjust="spacingAndGlyphs">50</text>
<text x="34.51" y="744" textLength="6.98" lengthAdjust="spacingAndGlyphs">0</text>
</g>
<g id="xlabels">
<text x="57.04" y="759" textLength="31.45" lengthAdjust="spacingAndGlyphs">1.000</text>
<text x="137.04" y="759" textLength="31.45" lengthAdjust="spacingAndGlyphs">1.500</text>
<text x="217.35" y="759" textLength="32.15" lengthAdjust="spacingAndGlyphs">2.000</text>
<text x="297.35" y="759" textLength="32.15" lengthAdjust="spacingAndGlyphs">2.500</text>
<text x="377.51" y="759" textLength="31.99" lengthAdjust="spacingAndGlyphs">3.000</text>
<text x="457.51" y="759" textLength="31.99" lengthAdjust="spacingAndGlyphs">3.500</text>
<text x="538.71" y="759" textLength="31.79" lengthAdjust="spacingAndGlyphs">4.000</text>
<text x="618.71" y="759" textLength="31.79" lengthAdjust="spacingAndGlyphs">4.500</text>
<text x="698.49" y="759" textLength="32.01" lengthAdjust="spacingAndGlyphs">5.000</text>
<text x="778.49" y="759" textLength="32.01" lengthAdjust="spacingAndGlyphs">5.500</text>
<text x="858.35" y="759" textLength="32.15" lengthAdjust="spacingAndGlyphs">6.000</text>
<text x="939.35" y="759" textLength="32.15" lengthAdjust="spacingAndGlyphs">6.500</text>
<text x="1019.34" y="759" textLength="32.16" lengthAdjust="spacingAndGlyphs">7.000</text>
</g>
<text y="775"><tspan x="514.95" textLength="39.92" lengthAdjust="spacingAndGlyphs">Engine</tspan> <tspan x="558.92" textLength="35.86" lengthAdjust="spacingAndGlyphs">RPMs</tspan></text>
<text y="0" transform="translate(14,505) rotate(-90)"><tspan x="-0.06" textLength="36.78" lengthAdjust="spacingAndGlyphs">Power</tspan> <tspan x="40.05" textLength="25.90" lengthAdjust="spacingAndGlyphs">[HP]</tspan> <tspan x="70.00">/</tspan> <tspan x="78.22" textLength="39.33" lengthAdjust="spacingAndGlyphs">Torque</tspan> <tspan x="121.02" textLength="28.96" lengthAdjust="spacingAndGlyphs">[Nm]</tspan></text>
<g id="legend">
<rect x="1069" y="192" width="16" height="1" fill="#cc22cc" shape-rendering="crispEdges"/>
<text y="197" style="fill:#cc22cc"><tspan x="1091.13" textLength="11.08" lengthAdjust="spacingAndGlyphs">2:</tspan> <tspan x="1106.95" textLength="36.26" lengthAdjust="spacingAndGlyphs">Power</tspan> <tspan x="1147.05" textLength="25.90" lengthAdjust="spacingAndGlyphs">[HP]</tspan></text>
<rect x="1069" y="213" width="16" height="1" fill="#d8a050" shape-rendering="crispEdges"/>
<text y="218" style="fill:#d8a050"><tspan x="1091.13" textLength="11.08" lengthAdjust="spacingAndGlyphs">2:</tspan> <tspan x="1106.92" textLength="39.13" lengthAdjust="spacingAndGlyphs">Torque</tspan> <tspan x="1150.04" textLength="28.53" lengthAdjust="spacingAndGlyphs">[Nm]</tspan></text>
<rect x="1069" y="234" width="16" height="1" fill="#e68ae6" shape-rendering="crispEdges"/>
<text y="239" style="fill:#e68ae6"><tspan x="1091.13" textLength="11.08" lengthAdjust="spacingAndGlyphs">2:</tspan> <tspan x="1106.92" textLength="41.55" lengthAdjust="spacingAndGlyphs">Losses</tspan> <tspan x="1153.04" textLength="26.11" lengthAdjust="spacingAndGlyphs">[HP]</tspan></text>
<rect x="1069" y="255" width="16" height="1" fill="#188080" shape-rendering="crispEdges"/>
<text y="260" style="fill:#188080"><tspan x="1091.51" textLength="10.66" lengthAdjust="spacingAndGlyphs">4:</tspan> <tspan x="1106.95" textLength="36.26" lengthAdjust="spacingAndGlyphs">Power</tspan> <tspan x="1147.05" textLength="25.90" lengthAdjust="spacingAndGlyphs">[HP]</tspan></text>
<rect x="1069" y="276" width="16" height="1" fill="#000058" shape-rendering="crispEdges"/>
<text y="281" style="fill:#000058"><tspan x="1091.51" textLength="10.66" lengthAdjust="spacingAndGlyphs">4:</tspan> <tspan x="1106.92" textLength="39.13" lengthAdjust="spacingAndGlyphs">Torque</tspan> <tspan x="1150.04" textLength="28.53" lengthAdjust="spacingAndGlyphs">[Nm]</tspan></text>
<rect x="1069" y="297" width="16" height="1" fill="#601818" shape-rendering="crispEdges"/>
<text y="302" style="fill:#601818"><tspan x="1091.51" textLength="10.66" lengthAdjust="spacingAndGlyphs">4:</tspan> <tspan x="1106.92" textLength="41.55" lengthAdjust="spacingAndGlyphs">Losses</tspan> <tspan x="1153.04" textLength="26.11" lengthAdjust="spacingAndGlyphs">[HP]</tspan></text>
</g>
</svg>
</body></html>
